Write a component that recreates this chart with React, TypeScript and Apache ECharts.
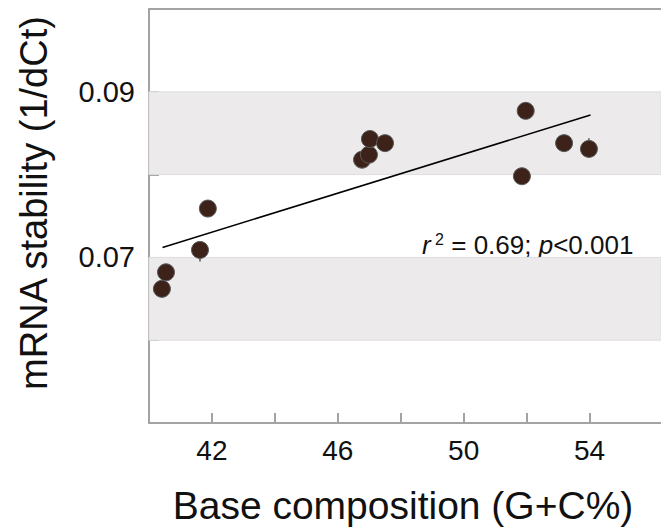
import React, { useEffect, useRef } from "react";
import * as echarts from "echarts";

// G+C % (x) and mRNA stability 1/dCt (y)
const gcPercent = [40.41, 40.54, 41.62, 41.87, 46.77, 46.99, 47.02, 47.5, 51.85, 51.97, 53.19, 53.98];
const stability = [0.0662, 0.0682, 0.0709, 0.0759, 0.0818, 0.0824, 0.0843, 0.0838, 0.0798, 0.0877, 0.0838, 0.0831];
const errDown = [0, 0, 0.0014, 0, 0, 0, 0, 0, 0, 0, 0, 0];
const errUp = [0, 0, 0, 0, 0, 0, 0, 0, 0, 0, 0, 0.0013];

// regression line end points
const fitX = [40.43, 54.03];
const fitY = [0.0712, 0.0872];

const xTicks = [42, 44, 46, 48, 50, 52, 54];
const xLabels = [42, 46, 50, 54];
const yTicks = [0.06, 0.07, 0.08, 0.09];
const yLabels = [0.07, 0.09];
const bands = [
  [0.08, 0.09],
  [0.06, 0.07],
];

const xName = "Base composition (G+C%)";
const yName = "mRNA stability (1/dCt)";

const FONT = "'Liberation Sans', Arial, sans-serif";
const AXIS = "#a3a3a3";

export default function App() {
  const ref = useRef<HTMLDivElement>(null);
  useEffect(() => {
    if (!ref.current) return;
    const chart = echarts.init(ref.current, null, { renderer: "svg" });
    const pts = gcPercent.map((x, i) => [x, stability[i]]);
    const errData = gcPercent.map((x, i) => [x, stability[i] - errDown[i], stability[i] + errUp[i]]);
    chart.setOption({
      animation: false,
      backgroundColor: "#ffffff",
      grid: { left: 149, top: 9, right: 0, bottom: 108, containLabel: false },
      xAxis: [
        {
          type: "value",
          min: 40,
          max: 56.27,
          interval: 2,
          axisLine: { show: true, lineStyle: { color: AXIS, width: 2 } },
          axisTick: {
            show: true,
            inside: true,
            length: 10,
            customValues: xTicks,
            lineStyle: { color: AXIS, width: 2 },
          },
          axisLabel: {
            customValues: xLabels,
            fontFamily: FONT,
            fontSize: 28,
            color: "#111",
            margin: 13,
          },
          splitLine: { show: false },
        },
        {
          type: "value",
          position: "top",
          min: 40,
          max: 56.27,
          axisLine: { show: true, lineStyle: { color: AXIS, width: 2 } },
          axisTick: { show: false },
          axisLabel: { show: false },
          splitLine: { show: false },
        },
      ],
      yAxis: {
        type: "value",
        min: 0.05,
        max: 0.1,
        interval: 0.01,
        axisLine: { show: true, lineStyle: { color: AXIS, width: 2 } },
        axisTick: {
          show: true,
          inside: true,
          length: 10,
          customValues: yTicks,
          lineStyle: { color: AXIS, width: 2 },
        },
        axisLabel: {
          customValues: yLabels,
          fontFamily: FONT,
          fontSize: 29,
          color: "#111",
          margin: 14,
          formatter: (v: number) => v.toFixed(2),
        },
        splitLine: { show: false },
      },
      series: [
        {
          type: "line",
          data: [],
          markArea: {
            silent: true,
            itemStyle: { color: "#eceaeb", borderColor: "#dedede", borderWidth: 1 },
            data: bands.map((b) => [{ yAxis: b[0] }, { yAxis: b[1] }]),
          },
        },
        {
          type: "line",
          data: fitX.map((x, i) => [x, fitY[i]]),
          showSymbol: false,
          symbol: "none",
          lineStyle: { color: "#000", width: 1.6 },
          z: 3,
        },
        {
          type: "custom",
          data: errData,
          z: 2,
          renderItem: (params: any, api: any) => {
            const x = api.value(0);
            const lo = api.coord([x, api.value(1)]);
            const hi = api.coord([x, api.value(2)]);
            return {
              type: "line",
              shape: { x1: lo[0], y1: lo[1], x2: hi[0], y2: hi[1] },
              style: { stroke: "#333", lineWidth: 1.2 },
            };
          },
        },
        {
          type: "scatter",
          data: pts,
          symbolSize: 17,
          itemStyle: { color: "#3c2218", borderColor: "#5a5a5a", borderWidth: 1, opacity: 1 },
          z: 4,
        },
      ],
      graphic: [
        {
          type: "text",
          x: 403,
          y: 505,
          style: {
            text: xName,
            font: `39px ${FONT}`,
            fill: "#111",
            align: "center",
            verticalAlign: "middle",
          },
        },
        {
          type: "text",
          x: 34,
          y: 203,
          rotation: Math.PI / 2,
          style: {
            text: yName,
            font: `38px ${FONT}`,
            fill: "#111",
            align: "center",
            verticalAlign: "middle",
          },
        },
        {
          type: "text",
          x: 422,
          y: 245,
          style: {
            text: "{i|r}{s| 2}{n| = 0.69; }{i|p}{n|<0.001}",
            verticalAlign: "middle",
            rich: {
              i: { fontFamily: FONT, fontSize: 26, fontStyle: "italic", fill: "#111", lineHeight: 28 },
              n: { fontFamily: FONT, fontSize: 26, fill: "#111", lineHeight: 28 },
              s: { fontFamily: FONT, fontSize: 16, fill: "#111", verticalAlign: "top", lineHeight: 28 },
            },
          },
        },
      ],
    });
    return () => chart.dispose();
  }, []);
  return (
    <div
      ref={ref}
      style={{ position: "fixed", left: 0, top: 0, width: 661, height: 531, background: "#fff" }}
    />
  );
}
